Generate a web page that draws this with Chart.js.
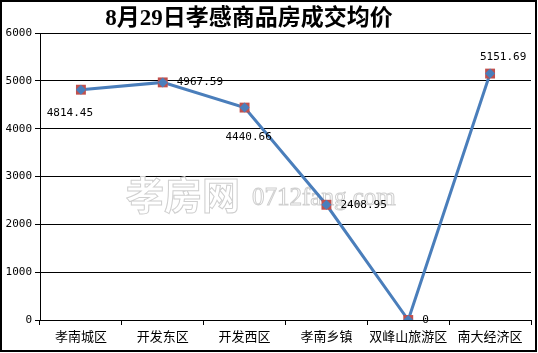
<!DOCTYPE html>
<html>
<head>
<meta charset="utf-8">
<script src="https://cdn.jsdelivr.net/npm/chart.js@4/dist/chart.umd.min.js"></script>
<style>
html, body { margin: 0; padding: 0; background: #ffffff; }
#wrap { width: 538px; height: 353px; position: relative; }
</style>
</head>
<body>
<div id="wrap"><canvas id="priceChart" width="538" height="353"></canvas></div>
<script>
var titleText = '8月29日孝感商品房成交均价';
var districts = ['孝南城区', '开发东区', '开发西区', '孝南乡镇', '双峰山旅游区', '南大经济区'];
var avgPrice = [4814.45, 4967.59, 4440.66, 2408.95, 0, 5151.69];
var yTicks = [0, 1000, 2000, 3000, 4000, 5000, 6000];
var valueText = ['4814.45', '4967.59', '4440.66', '2408.95', '0', '5151.69'];
// where each value label sits relative to its point
var labelSide = ['belowLeft', 'right', 'below', 'right', 'right', 'above'];

var frameTitle = {
  id: 'frameTitle',
  beforeDatasetsDraw: function(chart) {
    var ctx = chart.ctx;
    ctx.save();
    ctx.lineWidth = 1;
    ctx.strokeStyle = '#cfcfcf';
    ctx.fillStyle = '#ffffff';
    ctx.textBaseline = 'alphabetic';
    ctx.font = 'bold 38px "Noto Sans CJK SC"';
    ctx.fillText('孝房网', 126, 209);
    ctx.strokeText('孝房网', 126, 209);
    ctx.font = '25px "Liberation Serif"';
    ctx.fillText('0712fang.com', 252, 205);
    ctx.strokeText('0712fang.com', 252, 205);
    ctx.restore();
  },
  afterDraw: function(chart) {
    var ctx = chart.ctx;
    ctx.save();
    ctx.fillStyle = '#000000';
    ctx.font = 'bold 23px "Liberation Serif", "Noto Sans CJK SC", serif';
    ctx.textAlign = 'center';
    ctx.textBaseline = 'middle';
    ctx.fillText(titleText, 249, 19);
    ctx.lineWidth = 2;
    ctx.strokeStyle = '#000000';
    ctx.strokeRect(1, 1, 535, 350);
    ctx.restore();
  }
};

var valueLabels = {
  id: 'valueLabels',
  afterDatasetsDraw: function(chart) {
    var ctx = chart.ctx;
    var meta = chart.getDatasetMeta(0);
    ctx.save();
    ctx.fillStyle = '#000000';
    ctx.font = '11px "DejaVu Sans Mono", monospace';
    ctx.textBaseline = 'middle';
    meta.data.forEach(function(pt, i) {
      var txt = valueText[i];
      var side = labelSide[i];
      if (side === 'right') {
        ctx.textAlign = 'left';
        ctx.fillText(txt, pt.x + 14, pt.y);
      } else if (side === 'above') {
        ctx.textAlign = 'center';
        ctx.fillText(txt, pt.x + 13, pt.y - 16);
      } else if (side === 'below') {
        ctx.textAlign = 'center';
        ctx.fillText(txt, pt.x + 4, pt.y + 30);
      } else {
        ctx.textAlign = 'center';
        ctx.fillText(txt, pt.x - 11, pt.y + 23);
      }
    });
    ctx.restore();
  }
};

new Chart(document.getElementById('priceChart').getContext('2d'), {
  type: 'line',
  data: {
    labels: districts,
    datasets: [
      {
        data: avgPrice,
        borderColor: '#4a7ebb',
        borderWidth: 3,
        tension: 0,
        pointStyle: 'rect',
        pointRadius: 7,
        pointBorderWidth: 0,
        pointBackgroundColor: '#c0504d',
        order: 2
      },
      {
        data: avgPrice,
        showLine: false,
        pointStyle: 'rectRot',
        pointRadius: 5,
        pointBorderWidth: 0,
        pointBackgroundColor: '#4a7ebb',
        order: 1
      }
    ]
  },
  options: {
    responsive: false,
    animation: false,
    events: [],
    layout: { padding: { top: 33, right: 2, left: 0, bottom: 0 } },
    plugins: { legend: { display: false }, title: { display: false }, tooltip: { enabled: false } },
    scales: {
      x: {
        offset: true,
        afterFit: function(s) { s.height = 33; },
        grid: { offset: true, drawOnChartArea: false, drawTicks: true, tickLength: 5, color: '#000000' },
        border: { color: '#000000', width: 1 },
        ticks: { color: '#000000', padding: 3, maxRotation: 0, autoSkip: false, font: { family: '"Noto Sans CJK SC"', size: 13 } }
      },
      y: {
        min: 0,
        max: 6000,
        afterFit: function(s) { s.width = 40; },
        afterBuildTicks: function(s) { s.ticks = yTicks.map(function(v) { return { value: v }; }); },
        grid: { color: '#000000', lineWidth: 1, drawTicks: true, tickLength: 5 },
        border: { color: '#000000', width: 1 },
        ticks: {
          color: '#000000',
          padding: 3,
          font: { family: '"DejaVu Sans Mono", monospace', size: 11 },
          callback: function(v) { return String(v); }
        }
      }
    }
  },
  plugins: [frameTitle, valueLabels]
});
</script>
</body>
</html>
